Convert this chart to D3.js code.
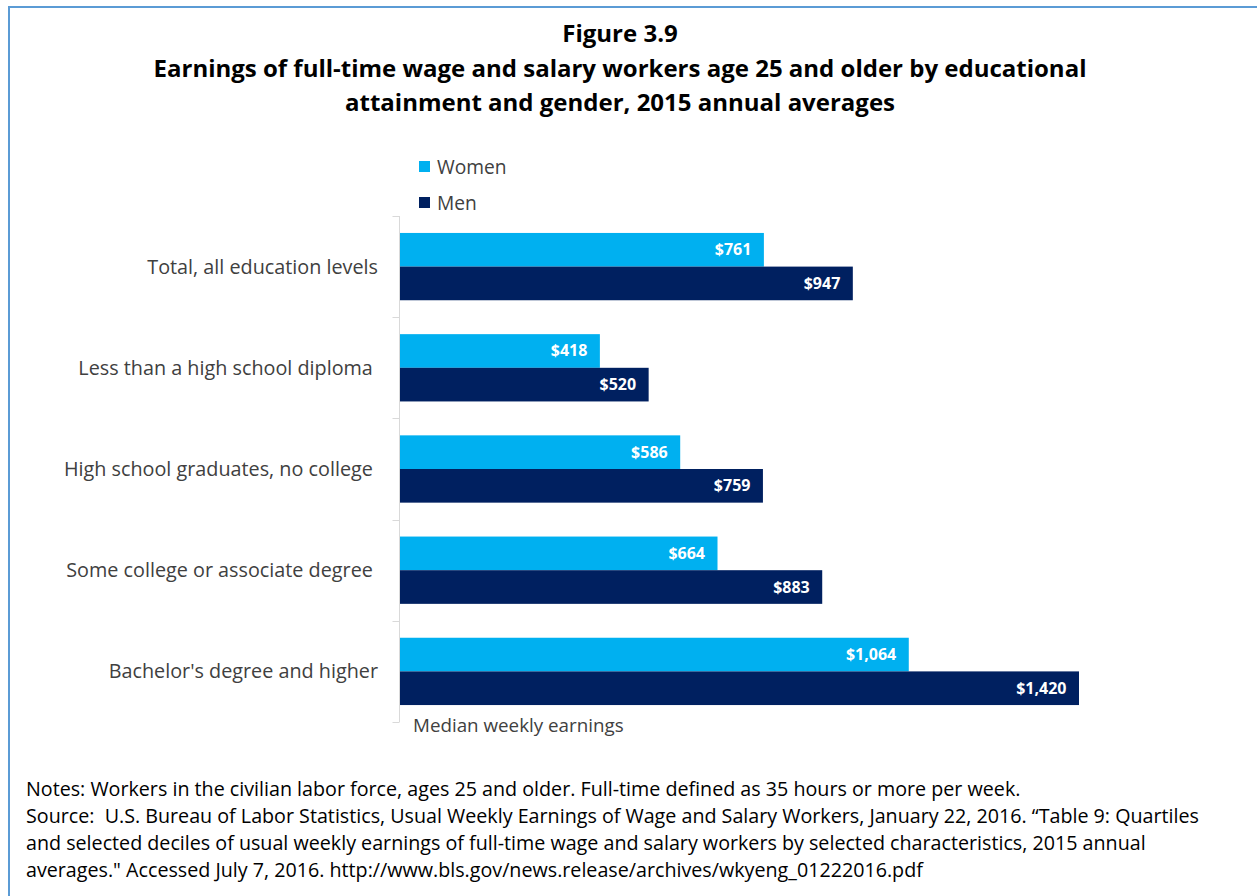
<!DOCTYPE html>
<html>
<head>
<meta charset="utf-8">
<script src="https://cdn.jsdelivr.net/npm/d3@7"></script>
<style>
  html, body { margin: 0; padding: 0; background: #fff; }
  svg { display: block; font-family: "Open Sans", sans-serif; }
</style>
</head>
<body>
<svg id="chart" width="1257" height="896"></svg>
<script>
const categories = [
  "Total, all education levels",
  "Less than a high school diploma ",
  "High school graduates, no college ",
  "Some college or associate degree ",
  "Bachelor's degree and higher"
];
const women = [761, 418, 586, 664, 1064];
const men = [947, 520, 759, 883, 1420];
const seriesNames = ["Women", "Men"];
const seriesColors = ["#00b0f0", "#002060"];
const titleLines = [
  "Figure 3.9",
  "Earnings of full-time wage and salary workers age 25 and older by educational",
  "attainment and gender, 2015 annual averages"
];
const axisTitle = "Median weekly earnings";
const notes = [
  "Notes: Workers in the civilian labor force, ages 25 and older. Full-time defined as 35 hours or more per week.",
  "Source:  U.S. Bureau of Labor Statistics, Usual Weekly Earnings of Wage and Salary Workers, January 22, 2016. \u201cTable 9: Quartiles",
  "and selected deciles of usual weekly earnings of full-time wage and salary workers by selected characteristics, 2015 annual",
  "averages.\" Accessed July 7, 2016. http://www.bls.gov/news.release/archives/wkyeng_01222016.pdf"
];

const svg = d3.select("#chart");

svg.append("rect")
  .attr("x", 9).attr("y", 7).attr("width", 1300).attr("height", 950)
  .attr("fill", "none").attr("stroke", "#5b9bd5").attr("stroke-width", 2);

svg.selectAll("text.title").data(titleLines).enter().append("text")
  .attr("class", "title")
  .attr("x", 620)
  .attr("y", (d, i) => 42 + i * 34.5)
  .attr("text-anchor", "middle")
  .attr("font-weight", "bold")
  .attr("font-size", 24)
  .attr("fill", "#000")
  .text(d => d);

const x = d3.scaleLinear().domain([0, 1600]).range([400, 400 + 1600 * (679 / 1420)]);
const y = d3.scaleBand().domain(categories).range([216, 722]).paddingInner(0.335).paddingOuter(0.1675);
const sub = d3.scaleBand().domain(seriesNames).range([0, y.bandwidth()]);

const yAxisG = svg.append("g").attr("transform", "translate(399.5,0)");
yAxisG.append("line").attr("y1", 216).attr("y2", 722).attr("stroke", "#d9d9d9").attr("stroke-width", 1);
const boundaries = d3.range(categories.length + 1).map(i => 216 + i * y.step());
yAxisG.selectAll("line.tick").data(boundaries).enter().append("line")
  .attr("class", "tick")
  .attr("x1", -7).attr("x2", 0)
  .attr("y1", d => Math.round(d) + 0.5).attr("y2", d => Math.round(d) + 0.5)
  .attr("stroke", "#d9d9d9");

svg.selectAll("text.cat").data(categories).enter().append("text")
  .attr("class", "cat")
  .attr("x", 378)
  .attr("y", d => y(d) + y.bandwidth() / 2 + 7)
  .attr("text-anchor", "end")
  .attr("font-size", 19.8)
  .attr("fill", "#404040")
  .attr("xml:space", "preserve")
  .style("white-space", "pre")
  .text(d => d);

const rows = categories.map((c, i) => ({ cat: c, values: [women[i], men[i]] }));
const groups = svg.selectAll("g.grp").data(rows).enter().append("g")
  .attr("class", "grp")
  .attr("transform", d => `translate(0,${y(d.cat)})`);
groups.selectAll("rect").data(d => d.values.map((v, j) => ({ v, s: seriesNames[j], c: seriesColors[j] })))
  .enter().append("rect")
  .attr("x", x(0))
  .attr("y", d => sub(d.s))
  .attr("width", d => x(d.v) - x(0))
  .attr("height", sub.bandwidth())
  .attr("fill", d => d.c);
groups.selectAll("text").data(d => d.values.map((v, j) => ({ v, s: seriesNames[j] })))
  .enter().append("text")
  .attr("x", d => x(d.v) - 12.5)
  .attr("y", d => sub(d.s) + sub.bandwidth() / 2 + 5.5)
  .attr("text-anchor", "end")
  .attr("font-weight", "bold")
  .attr("font-size", 16)
  .attr("fill", "#fff")
  .text(d => "$" + d3.format(",")(d.v));

const leg = svg.selectAll("g.leg").data(seriesNames).enter().append("g")
  .attr("class", "leg")
  .attr("transform", (d, i) => `translate(419,${161 + i * 36})`);
leg.append("rect").attr("width", 11).attr("height", 11).attr("fill", (d, i) => seriesColors[i]);
leg.append("text").attr("x", 18).attr("y", 13).attr("font-size", 19.2).attr("fill", "#404040").text(d => d);

svg.append("text").attr("x", 413).attr("y", 732).attr("font-size", 18.8).attr("fill", "#404040").text(axisTitle);

svg.selectAll("text.note").data(notes).enter().append("text")
  .attr("class", "note")
  .attr("x", 26)
  .attr("y", (d, i) => 796 + i * 27)
  .attr("font-size", 19.7)
  .attr("fill", "#000")
  .attr("xml:space", "preserve")
  .style("white-space", "pre")
  .text(d => d);
</script>
</body>
</html>
